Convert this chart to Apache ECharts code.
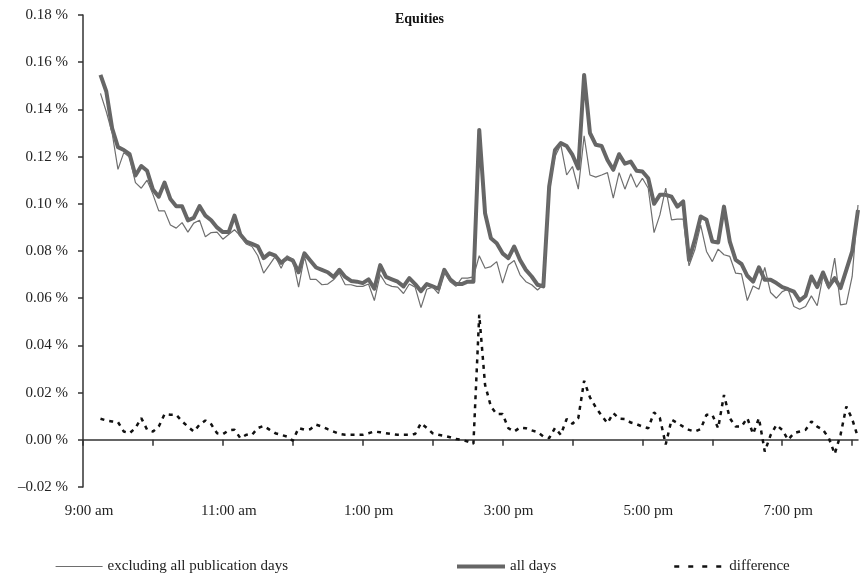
<!DOCTYPE html>
<html>
<head>
<meta charset="utf-8">
<script src="https://cdn.jsdelivr.net/npm/echarts@6/dist/echarts.min.js"></script>
<style>
html,body{margin:0;padding:0;background:#fff;}
#chart{width:861px;height:578px;}
</style>
</head>
<body>
<div id="chart"></div>
<script>
var times = ['9:15','9:20','9:25','9:30','9:35','9:40','9:45','9:50','9:55',
'10:00','10:05','10:10','10:15','10:20','10:25','10:30','10:35','10:40','10:45','10:50','10:55',
'11:00','11:05','11:10','11:15','11:20','11:25','11:30','11:35','11:40','11:45','11:50','11:55',
'12:00','12:05','12:10','12:15','12:20','12:25','12:30','12:35','12:40','12:45','12:50','12:55',
'13:00','13:05','13:10','13:15','13:20','13:25','13:30','13:35','13:40','13:45','13:50','13:55',
'14:00','14:05','14:10','14:15','14:20','14:25','14:30','14:35','14:40','14:45','14:50','14:55',
'15:00','15:05','15:10','15:15','15:20','15:25','15:30','15:35','15:40','15:45','15:50','15:55',
'16:00','16:05','16:10','16:15','16:20','16:25','16:30','16:35','16:40','16:45','16:50','16:55',
'17:00','17:05','17:10','17:15','17:20','17:25','17:30','17:35','17:40','17:45','17:50','17:55',
'18:00','18:05','18:10','18:15','18:20','18:25','18:30','18:35','18:40','18:45','18:50','18:55',
'19:00','19:05','19:10','19:15','19:20','19:25','19:30','19:35','19:40','19:45','19:50','19:55',
'20:00','20:05'];

var allDays = [0.1546,0.1476,0.132,0.124,0.1228,0.121,0.112,0.116,0.114,0.106,
0.103,0.109,0.102,0.099,0.099,0.093,0.094,0.099,0.095,0.093,
0.090,0.088,0.088,0.095,0.087,0.084,0.083,0.082,0.077,0.079,
0.078,0.075,0.077,0.076,0.071,0.079,0.076,0.073,0.072,0.071,
0.069,0.072,0.069,0.0673,0.067,0.0664,0.068,0.064,0.074,0.069,
0.068,0.067,0.065,0.0685,0.066,0.063,0.066,0.065,0.064,0.072,
0.068,0.066,0.066,0.067,0.067,0.1313,0.096,0.0854,0.0833,0.079,
0.077,0.0819,0.0762,0.072,0.0692,0.0657,0.065,0.1073,0.1228,0.1257,
0.1245,0.1207,0.115,0.1546,0.130,0.125,0.1245,0.1186,0.1144,0.121,
0.117,0.1179,0.114,0.1137,0.1108,0.100,0.1038,0.1038,0.103,0.0988,
0.101,0.0762,0.0847,0.0946,0.0932,0.084,0.0836,0.0988,0.084,0.0762,
0.0745,0.0695,0.067,0.0731,0.0678,0.0678,0.0664,0.0647,0.0638,0.0628,
0.059,0.061,0.0692,0.0647,0.0709,0.065,0.0685,0.0643,0.072,0.0798,
0.0974];

var excluding = [0.1468,0.139,0.130,0.1146,0.1217,0.1197,0.109,0.1066,0.110,0.104,
0.097,0.097,0.091,0.0897,0.092,0.088,0.0918,0.093,0.086,0.0878,
0.088,0.085,0.087,0.089,0.0864,0.083,0.0819,0.078,0.0706,0.0741,
0.0777,0.0727,0.078,0.0765,0.0647,0.0777,0.068,0.068,0.0657,0.066,
0.0678,0.0706,0.0657,0.0657,0.065,0.065,0.066,0.059,0.070,0.066,
0.065,0.0647,0.062,0.066,0.0647,0.056,0.0638,0.0647,0.062,0.0713,
0.067,0.065,0.0685,0.0685,0.069,0.078,0.0727,0.0734,0.0755,0.0664,
0.0741,0.076,0.0699,0.067,0.0657,0.0635,0.0657,0.1066,0.12,0.125,
0.1122,0.1158,0.1062,0.1288,0.1122,0.1113,0.1122,0.1132,0.1024,0.1132,
0.1062,0.1127,0.107,0.1108,0.1066,0.0878,0.0953,0.1066,0.0932,0.0935,
0.0935,0.0737,0.0805,0.091,0.0798,0.0755,0.0808,0.0784,0.0777,0.0706,
0.0703,0.059,0.0652,0.0638,0.0731,0.0624,0.06,0.0628,0.0638,0.0565,
0.0553,0.0565,0.061,0.0568,0.0695,0.0638,0.077,0.0572,0.0576,0.0692,
0.0995];

var difference = [0.0089,0.0082,0.0078,0.0075,0.0035,0.0028,0.0050,0.0092,0.0043,0.0035,
0.0056,0.0109,0.0106,0.0106,0.0078,0.0056,0.0035,0.0064,0.0082,0.0066,
0.0028,0.0024,0.0040,0.0043,0.0007,0.0021,0.0021,0.0050,0.0059,0.0043,
0.0028,0.0021,0.0014,-0.0004,0.0050,0.0043,0.0045,0.0064,0.0056,0.0045,
0.0035,0.0025,0.0021,0.0021,0.0021,0.0021,0.0028,0.0035,0.0032,0.0028,
0.0024,0.0021,0.0021,0.0021,0.0025,0.0071,0.0050,0.0028,0.0021,0.0017,
0.0011,0.0003,0.0000,-0.0007,-0.0017,0.0530,0.0233,0.0141,0.0109,0.0109,
0.0049,0.0035,0.0052,0.0049,0.0040,0.0033,0.0014,0.0007,0.0050,0.0021,
0.0088,0.0068,0.0092,0.0250,0.0180,0.0137,0.0102,0.0071,0.0113,0.0090,
0.0088,0.0073,0.0066,0.0056,0.0049,0.0116,0.0092,-0.0020,0.0085,0.0071,
0.0056,0.0042,0.0035,0.0045,0.0106,0.0106,0.0049,0.0190,0.0092,0.0056,
0.0056,0.0092,0.0025,0.0092,-0.0050,0.0020,0.0063,0.0042,0.0000,0.0028,
0.0035,0.0042,0.0078,0.0056,0.0042,0.0007,-0.0060,0.0021,0.0141,0.0088,
0.0010];

var tickTimes = ['9:00','10:00','11:00','12:00','13:00','14:00','15:00','16:00','17:00','18:00','19:00','20:00'];
var labelTimes = ['9:00','11:00','13:00','15:00','17:00','19:00'];
var tickLabels = ['9:00 am','11:00 am','1:00 pm','3:00 pm','5:00 pm','7:00 pm'];
var seriesNames = ['excluding all publication days','all days','difference'];

function toMin(s){var p=s.split(':');return (+p[0])*60+(+p[1]);}
function pairs(vals){return vals.map(function(v,i){return [toMin(times[i]),v];});}

var FONT = '"Liberation Serif","Times New Roman",serif';
var labelMins = labelTimes.map(toMin);
var hiddenSymbol = {color:'rgba(0,0,0,0)',borderColor:'rgba(0,0,0,0)',borderWidth:0,opacity:0};
var legendText = {fontFamily:FONT,fontSize:15,color:'#222'};

var chart = echarts.init(document.getElementById('chart'), null, {renderer:'canvas'});
chart.setOption({
  animation:false,
  backgroundColor:'#fff',
  title:{text:'Equities',left:390,top:7,textStyle:{fontFamily:FONT,fontSize:14,fontWeight:'bold',color:'#111'}},
  grid:{left:83,right:3,top:15,bottom:91,containLabel:false,outerBoundsMode:'none'},
  legend:[
    {data:[seriesNames[0]],left:50,top:554,itemWidth:47,itemHeight:14,
     itemStyle:hiddenSymbol,lineStyle:{width:1.2},textStyle:legendText},
    {data:[seriesNames[1]],left:450,top:554,itemWidth:48,itemHeight:14,
     itemStyle:hiddenSymbol,lineStyle:{width:4},textStyle:legendText},
    {data:[seriesNames[2]],left:668,top:554,itemWidth:50,itemHeight:14,
     itemStyle:hiddenSymbol,lineStyle:{width:2.5,type:[5,9]},textStyle:legendText}
  ],
  xAxis:[
    {type:'value',min:540,max:1205,
     axisLine:{show:true,onZero:true,lineStyle:{color:'#333',width:1.5}},
     axisTick:{show:true,inside:false,length:6,customValues:tickTimes.map(toMin),lineStyle:{color:'#333',width:1.5}},
     axisLabel:{show:false},splitLine:{show:false}},
    {type:'value',min:540,max:1205,position:'bottom',
     axisLine:{show:false,onZero:false},axisTick:{show:false},splitLine:{show:false},
     axisLabel:{show:true,customValues:labelMins,margin:17,padding:[0,0,0,12],
       fontFamily:FONT,fontSize:15,color:'#222',
       formatter:function(v){var k=labelMins.indexOf(Math.round(v));return k>=0?tickLabels[k]:'';}}}
  ],
  yAxis:{type:'value',min:-0.02,max:0.18,interval:0.02,
    axisLine:{show:true,lineStyle:{color:'#333',width:1.5}},
    axisTick:{show:true,inside:false,length:5,lineStyle:{color:'#333',width:1.5}},
    splitLine:{show:false},
    axisLabel:{margin:15,fontFamily:FONT,fontSize:15,color:'#222',
      formatter:function(v){var s=Math.abs(v).toFixed(2)+' %';return v< -1e-9?'\u2013'+s:s;}}},
  series:[
    {name:seriesNames[1],type:'line',data:pairs(allDays),symbol:'none',showSymbol:false,
     lineStyle:{color:'#666',width:4,join:'round'},itemStyle:{color:'#666'},z:2},
    {name:seriesNames[0],type:'line',data:pairs(excluding),symbol:'none',showSymbol:false,
     lineStyle:{color:'#6e6e6e',width:1.2},itemStyle:{color:'#6e6e6e'},z:3},
    {name:seriesNames[2],type:'line',data:pairs(difference),symbol:'none',showSymbol:false,
     lineStyle:{color:'#111',width:2.5,type:[4,5]},itemStyle:{color:'#111'},z:4}
  ]
});
</script>
</body>
</html>
